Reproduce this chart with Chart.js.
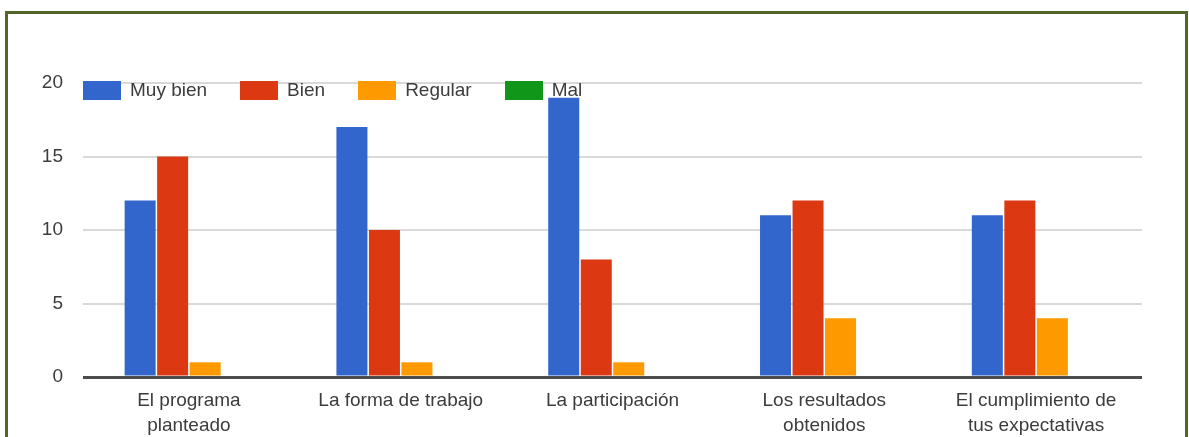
<!DOCTYPE html>
<html>
<head>
<meta charset="utf-8">
<script src="https://cdn.jsdelivr.net/npm/chart.js@4.4.0/dist/chart.umd.min.js"></script>
<style>
  html, body { margin: 0; padding: 0; background: #fff; }
  #wrap { position: relative; width: 1189px; height: 437px; overflow: hidden; }
  #frame { position: absolute; left: 5px; top: 11px; width: 1177px; height: 440px;
           border: 3px solid #53652c; border-bottom: none; }
  #chart { position: absolute; left: 0; top: 0; }
  #legend { position: absolute; left: 83px; top: 79px; display: flex; align-items: center;
            font-family: "Liberation Sans", Arial, sans-serif; font-size: 19px; color: #3c3c3c; }
  #legend .item { display: flex; align-items: center; margin-right: 33px; }
  #legend .box { width: 38px; height: 19px; margin-right: 9px; }
</style>
</head>
<body>
<div id="wrap">
  <div id="frame"></div>
  <canvas id="chart" width="1189" height="437"></canvas>
  <div id="legend"></div>
</div>
<script>
var categories = [
  ['El programa', 'planteado'],
  'La forma de trabajo',
  'La participación',
  ['Los resultados', 'obtenidos'],
  ['El cumplimiento de', 'tus expectativas']
];
var muyBien = [12, 17, 19, 11, 11];
var bien = [15, 10, 8, 12, 12];
var regular = [1, 1, 1, 4, 4];
var mal = [0, 0, 0, 0, 0];
var yTicks = [0, 5, 10, 15, 20];

var font = { family: '"Liberation Sans", Arial, sans-serif', size: 19 };

var ctx = document.getElementById('chart');
var chart = new Chart(ctx, {
  type: 'bar',
  data: {
    labels: categories,
    datasets: [
      { label: 'Muy bien', data: muyBien, backgroundColor: '#3366cc' },
      { label: 'Bien', data: bien, backgroundColor: '#dc3912' },
      { label: 'Regular', data: regular, backgroundColor: '#ff9900' },
      { label: 'Mal', data: mal, backgroundColor: '#109618' }
    ]
  },
  options: {
    responsive: false,
    animation: false,
    layout: { padding: { top: 83, right: 47, bottom: 0, left: 0 } },
    datasets: { bar: { categoryPercentage: 0.614, barPercentage: 0.954 } },
    plugins: { legend: { display: false }, tooltip: { enabled: false } },
    scales: {
      x: {
        grid: { display: false },
        border: { display: false },
        ticks: { font: Object.assign({ lineHeight: 1.32 }, font), color: '#3c3c3c', padding: 3, maxRotation: 0 },
        afterFit: function (s) { s.height = 60; }
      },
      y: {
        min: 0,
        max: 20,
        afterBuildTicks: function (s) { s.ticks = yTicks.map(function (v) { return { value: v }; }); },
        grid: {
          drawTicks: false,
          color: function (c) { return c.tick && c.tick.value === 0 ? '#4d4d4d' : '#d9d9d9'; },
          lineWidth: function (c) { return c.tick && c.tick.value === 0 ? 3 : 2; }
        },
        border: { display: false },
        ticks: { font: font, color: '#3c3c3c', padding: 20 },
        afterFit: function (s) { s.width = 83; }
      }
    }
  }
});

// legend built from the chart's own label generator
var legendEl = document.getElementById('legend');
chart.options.plugins.legend.labels.generateLabels(chart).forEach(function (item) {
  var div = document.createElement('div');
  div.className = 'item';
  var box = document.createElement('span');
  box.className = 'box';
  box.style.background = item.fillStyle;
  var txt = document.createElement('span');
  txt.textContent = item.text;
  div.appendChild(box);
  div.appendChild(txt);
  legendEl.appendChild(div);
});
</script>
</body>
</html>
